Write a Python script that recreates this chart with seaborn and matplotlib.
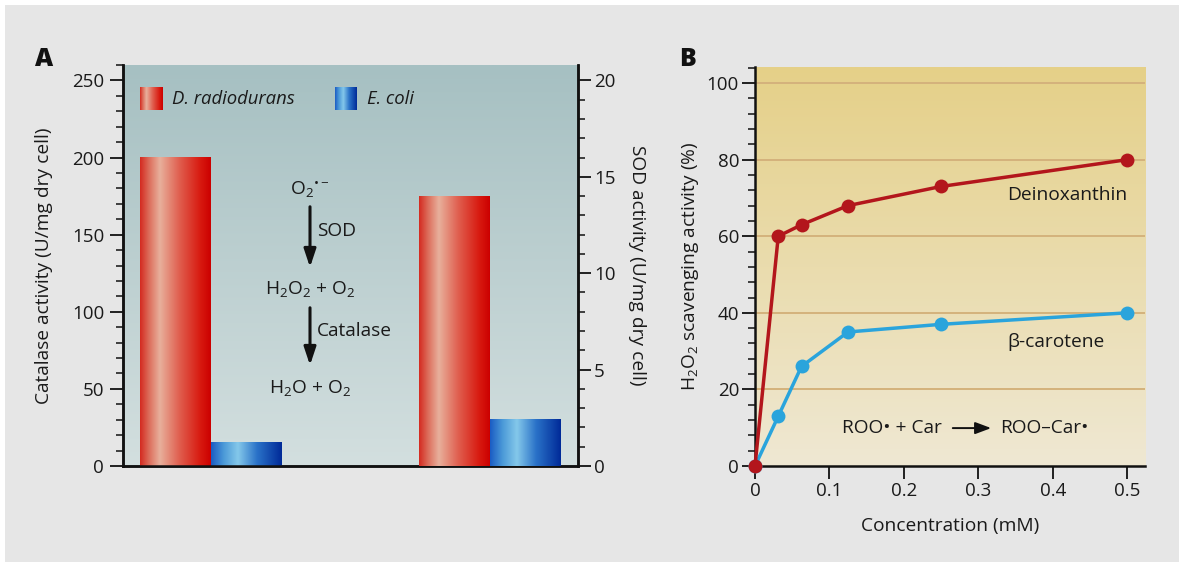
import numpy as np
import pandas as pd
import matplotlib
matplotlib.use("Agg")
import matplotlib.pyplot as plt
import seaborn as sns
from matplotlib.colors import LinearSegmentedColormap
from matplotlib.ticker import MultipleLocator, FixedLocator
from matplotlib.patches import Rectangle

# ---------------- data ----------------
strains = ["D. radiodurans", "E. coli"]
enzymes = ["Catalase", "SOD"]
catalase_activity = [200, 15]      # U/mg dry cell (left axis)
sod_activity = [14.0, 2.4]         # U/mg dry cell (right axis)

conc_mM = [0, 0.03125, 0.0625, 0.125, 0.25, 0.5]
deinoxanthin = [0, 60, 63, 68, 73, 80]
beta_carotene = [0, 13, 26, 35, 37, 40]

left_ticks = [0, 50, 100, 150, 200, 250]
right_ticks = [0, 5, 10, 15, 20]
b_yticks = [0, 20, 40, 60, 80, 100]
b_xticks = [0, 0.1, 0.2, 0.3, 0.4, 0.5]
b_xticklabels = ["0", "0.1", "0.2", "0.3", "0.4", "0.5"]

# ---------------- style ----------------
sns.set_theme(style="white")
plt.rcParams["font.family"] = ["Open Sans", "DejaVu Sans"]
plt.rcParams["mathtext.fontset"] = "custom"
plt.rcParams["mathtext.rm"] = "Open Sans"
plt.rcParams["mathtext.it"] = "Open Sans:italic"
plt.rcParams["mathtext.bf"] = "Open Sans:bold"
TXT = "#1a1a1a"
FS = 13.8      # labels / annotations
TFS = 13.5     # tick labels

fig = plt.figure(figsize=(11.83, 5.67), dpi=100, facecolor="white")
W, H = 1183, 567
fig.patches.append(Rectangle((5 / W, 1 - 562 / H), 1174 / W, 557 / H,
                             transform=fig.transFigure, facecolor="#e6e6e6",
                             edgecolor="none", zorder=-20))

def px_axes(l, t, r, b):
    return [l / W, 1 - b / H, (r - l) / W, (b - t) / H]

red_cmap = LinearSegmentedColormap.from_list(
    "redbar", [(0, "#d42a20"), (0.12, "#dc6a58"), (0.28, "#e8b09c"),
               (0.55, "#e06050"), (0.85, "#d81a10"), (1, "#cc0000")])
blue_cmap = LinearSegmentedColormap.from_list(
    "bluebar", [(0, "#1a5cc4"), (0.18, "#4c9ad8"), (0.38, "#84c8ea"),
                (0.65, "#2a72c8"), (1, "#002a98")])
grad = np.linspace(0, 1, 256)[None, :]

def vgrad(ax, top, bottom, z=-5):
    cm = LinearSegmentedColormap.from_list("bg", [bottom, top])
    ax.imshow(np.linspace(0, 1, 256)[:, None], cmap=cm, aspect="auto",
              extent=(0, 1, 0, 1), origin="lower", transform=ax.transAxes,
              zorder=z)

# ---------------- panel A ----------------
axA = fig.add_axes(px_axes(123, 65, 578, 466))
axA.patch.set_visible(False)
vgrad(axA, "#a6c0c2", "#d3dfdf", z=-10)

dfA = pd.DataFrame({"enzyme": ["Catalase"] * 2, "strain": strains,
                    "value": catalase_activity})
dfS = pd.DataFrame({"enzyme": ["SOD"] * 2, "strain": strains,
                    "value": sod_activity})
pal = {"D. radiodurans": "#d81a10", "E. coli": "#1a5cc4"}

sns.barplot(data=dfA, x="enzyme", y="value", hue="strain", order=enzymes,
            hue_order=strains, palette=pal, width=0.505, ax=axA,
            legend=False, saturation=1, linewidth=0, zorder=2)
axB2 = axA.twinx()
sns.barplot(data=dfS, x="enzyme", y="value", hue="strain", order=enzymes,
            hue_order=strains, palette=pal, width=0.505, ax=axB2,
            legend=False, saturation=1, linewidth=0, zorder=2)

def shade_bars(ax):
    for p in list(ax.patches):
        h = p.get_height()
        if not np.isfinite(h) or h == 0:
            continue
        x0, w, y0 = p.get_x(), p.get_width(), p.get_y()
        fc = p.get_facecolor()
        cm = red_cmap if fc[0] > fc[2] else blue_cmap
        ax.imshow(grad, cmap=cm, aspect="auto", extent=(x0, x0 + w, y0, y0 + h),
                  zorder=3, interpolation="bilinear")

shade_bars(axA)
shade_bars(axB2)

axA.set_xlim(-0.3136, 1.317)
axA.set_ylim(0, 260)
axB2.set_ylim(0, 260 / 12.5)
axA.set_xlabel("")
axA.set_ylabel("Catalase activity (U/mg dry cell)", fontsize=FS, color=TXT, labelpad=14)
axB2.set_ylabel("SOD activity (U/mg dry cell)", fontsize=FS, color=TXT,
                rotation=270, labelpad=22)
axA.set_xticks([])
axA.yaxis.set_major_locator(FixedLocator(left_ticks))
axA.yaxis.set_minor_locator(MultipleLocator(10))
axB2.yaxis.set_major_locator(FixedLocator(right_ticks))
axB2.yaxis.set_minor_locator(MultipleLocator(1))
for a in (axA, axB2):
    for s in a.spines.values():
        s.set_color("#111111")
        s.set_linewidth(1.8)
    a.spines["top"].set_visible(False)
    a.tick_params(axis="y", which="major", length=9.5, width=1.3, color="#111111",
                  labelsize=TFS, labelcolor=TXT, pad=2)
    a.tick_params(axis="y", which="minor", length=5, width=1.1, color="#111111")
axA.tick_params(axis="y", left=True, which="both", pad=4)
axB2.tick_params(axis="y", right=True, which="both")

# legend (manual, gradient swatches)
for (x0, x1), cm, label in [((0.037, 0.086), red_cmap, "D. radiodurans"),
                            ((0.466, 0.514), blue_cmap, "E. coli")]:
    axA.imshow(grad, cmap=cm, aspect="auto", extent=(x0, x1, 0.888, 0.945),
               transform=axA.transAxes, zorder=4)
    axA.text(x1 + 0.022, 0.916, label, transform=axA.transAxes, style="italic",
             fontsize=FS - 0.5, color=TXT, va="center", ha="left")

# pathway text
cx = (310 - 123) / 455
def fy(py):
    return 1 - (py - 65) / 401
kw = dict(transform=axA.transAxes, fontsize=FS, color=TXT, ha="center", va="center", zorder=5)
axA.text(cx, fy(190), "O$_\\mathregular{2}$$^\\mathregular{\u2022\u2212}$", **kw)
axA.text(cx, fy(289), r"H$_\mathregular{2}$O$_\mathregular{2}$ + O$_\mathregular{2}$", **kw)
axA.text(cx, fy(388), r"H$_\mathregular{2}$O + O$_\mathregular{2}$", **kw)
for y0, y1, lab in [(204, 270, "SOD"), (305, 368, "Catalase")]:
    axA.annotate("", xy=(cx, fy(y1)), xytext=(cx, fy(y0)), xycoords="axes fraction",
                 arrowprops=dict(arrowstyle="-|>,head_length=0.9,head_width=0.3",
                                 color="#111111", lw=2.2), zorder=5)
    axA.text(cx + 0.016, fy((y0 + y1) / 2 - 6), lab, transform=axA.transAxes,
             fontsize=FS, color=TXT, ha="left", va="center", zorder=5)

fig.text(35 / W, 1 - 60 / H, "A", fontsize=18, fontweight="heavy", color="#111111",
         ha="left", va="center")

# ---------------- panel B ----------------
axB = fig.add_axes(px_axes(755, 67, 1145, 466))
axB.patch.set_visible(False)
vgrad(axB, "#e5d088", "#efe8d3", z=-10)

dfB = pd.DataFrame({
    "conc": conc_mM * 2,
    "activity": beta_carotene + deinoxanthin,
    "compound": ["β-carotene"] * len(conc_mM) + ["Deinoxanthin"] * len(conc_mM),
})
sns.lineplot(data=dfB, x="conc", y="activity", hue="compound",
             hue_order=["β-carotene", "Deinoxanthin"],
             palette={"β-carotene": "#2aa4dc", "Deinoxanthin": "#b3161c"},
             marker="o", markersize=10, markeredgewidth=0, linewidth=2.5,
             ax=axB, legend=False, zorder=4, clip_on=False)

for yv in b_yticks[1:]:
    axB.axhline(yv, color="#d4b27c", linewidth=1.4, zorder=1)

axB.set_xlim(0, 0.524)
axB.set_ylim(0, 104.2)
axB.xaxis.set_major_locator(FixedLocator(b_xticks))
axB.set_xticklabels(b_xticklabels)
axB.yaxis.set_major_locator(FixedLocator(b_yticks))
axB.yaxis.set_minor_locator(MultipleLocator(4))
for s in ("top", "right"):
    axB.spines[s].set_visible(False)
for s in ("left", "bottom"):
    axB.spines[s].set_color("#111111")
    axB.spines[s].set_linewidth(1.8)
axB.tick_params(axis="both", which="major", length=9.5, width=1.3, color="#111111",
                labelsize=TFS, labelcolor=TXT, left=True, bottom=True, pad=2)
axB.tick_params(axis="y", which="minor", length=5, width=1.1, color="#111111", left=True)
axB.set_xlabel("Concentration (mM)", fontsize=FS, color=TXT, labelpad=12)
axB.set_ylabel(r"H$_\mathregular{2}$O$_\mathregular{2}$ scavenging activity (%)",
               fontsize=FS, color=TXT, labelpad=4)

axB.text(0.5, 70.7, "Deinoxanthin", fontsize=FS, color=TXT, ha="right", va="center")
axB.text(0.339, 32.4, "β-carotene", fontsize=FS, color=TXT, ha="left", va="center")
axB.text(0.117, 9.9, "ROO\u2022 + Car", fontsize=FS, color=TXT, ha="left", va="center")
axB.annotate("", xy=(0.321, 9.9), xytext=(0.262, 9.9),
             arrowprops=dict(arrowstyle="-|>,head_length=0.8,head_width=0.3",
                             color="#111111", lw=1.4))
axB.text(0.329, 9.9, "ROO\u2013Car\u2022", fontsize=FS, color=TXT, ha="left", va="center")

fig.text(679 / W, 1 - 60 / H, "B", fontsize=18, fontweight="heavy", color="#111111",
         ha="left", va="center")

fig.savefig("out.png", dpi=100, facecolor="white")
